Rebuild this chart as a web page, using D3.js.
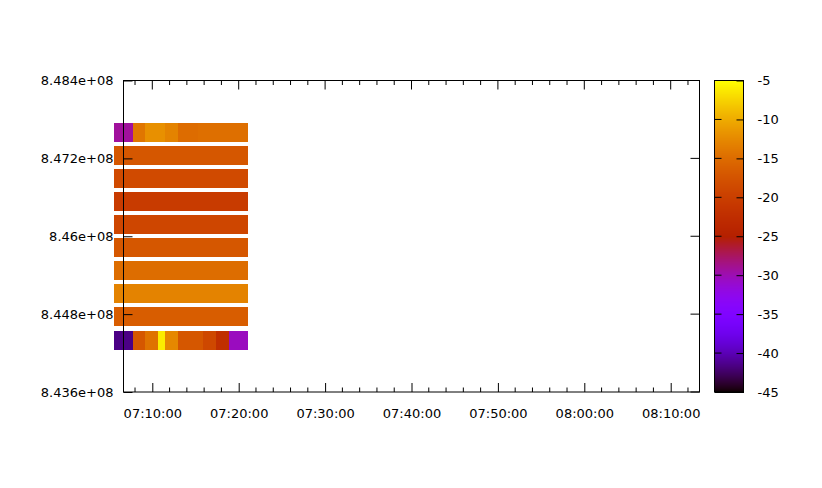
<!DOCTYPE html>
<html>
<head>
<meta charset="utf-8">
<script src="https://cdn.jsdelivr.net/npm/d3@7/dist/d3.min.js"></script>
<style>
  html, body { margin: 0; padding: 0; background: #fff; }
  text { font-family: "DejaVu Sans", sans-serif; font-size: 13px; fill: #000; }
</style>
</head>
<body>
<script>
// ---------------- data ----------------
// row centre values on the y axis (top to bottom)
const rowFreqs = [847.598e6, 847.244e6, 846.889e6, 846.534e6, 846.180e6,
                  845.825e6, 845.471e6, 845.116e6, 844.761e6, 844.391e6];
// column boundaries (time of day)
const cellEdges = ["07:05:35", "07:07:47", "07:09:11", "07:10:41", "07:11:30", "07:13:00",
                   "07:15:14", "07:15:54", "07:17:24", "07:18:54", "07:21:06"];
// cell values (one array per row, top to bottom)
const row1  = [-29.2, -14.1, -11.9, -11.9, -13.0, -15.0, -14.7, -14.7, -14.7, -14.7];
const row2  = [-17.1, -17.1, -17.1, -17.1, -17.1, -17.1, -17.1, -17.1, -17.1, -17.1];
const row3  = [-18.5, -18.5, -18.5, -18.5, -18.5, -18.5, -18.5, -18.5, -18.5, -18.5];
const row4  = [-20.4, -20.4, -20.4, -20.4, -20.4, -20.4, -20.4, -20.4, -20.4, -20.4];
const row5  = [-19.0, -19.0, -19.0, -19.0, -19.0, -19.0, -19.0, -19.0, -19.0, -19.0];
const row6  = [-17.1, -17.1, -17.1, -17.1, -17.1, -17.1, -17.1, -17.1, -17.1, -17.1];
const row7  = [-14.9, -14.9, -14.9, -14.9, -14.9, -14.9, -14.9, -14.9, -14.9, -14.9];
const row8  = [-13.0, -13.0, -13.0, -13.0, -13.0, -13.0, -13.0, -13.0, -13.0, -13.0];
const row9  = [-16.4, -16.4, -16.4, -16.4, -16.4, -16.4, -16.4, -16.4, -16.4, -16.4];
const row10 = [-41.5, -17.1, -14.3, -6.0, -12.6, -17.0, -17.0, -18.8, -22.3, -30.4];
const rowValues = [row1, row2, row3, row4, row5, row6, row7, row8, row9, row10];
// axis ranges / tick labels
const xDomain = ["07:06:40", "08:13:20"];
const yDomain = [843.6e6, 848.4e6];
const yTicks = [843.6e6, 844.8e6, 846.0e6, 847.2e6, 848.4e6];
const yTickLabels = ["8.436e+08", "8.448e+08", "8.46e+08", "8.472e+08", "8.484e+08"];
const cbDomain = [-45, -5];
const cbTicks = [-45, -40, -35, -30, -25, -20, -15, -10, -5];
const rowHalfHeight = 146.5e3;

// ---------------- drawing ----------------
const W = 822, H = 488;
const svg = d3.select("body").append("svg").attr("width", W).attr("height", H);

const parseT = s => new Date("2000-01-01T" + s + "Z");
const x = d3.scaleUtc().domain(xDomain.map(parseT)).range([123.5, 699.5]);
const y = d3.scaleLinear().domain(yDomain).range([392, 80.5]);
const norm = d3.scaleLinear().domain(cbDomain).range([0, 1]).clamp(true);

// gnuplot rgbformulae 7,5,15
function pal(t) {
  const r = Math.sqrt(t), g = t * t * t, b = Math.max(0, Math.sin(2 * Math.PI * t));
  const c = v => Math.round(Math.max(0, Math.min(1, v)) * 255);
  return `rgb(${c(r)},${c(g)},${c(b)})`;
}
const color = v => pal(norm(v));

// cells
const cells = [];
rowValues.forEach((vals, i) => {
  vals.forEach((v, j) => {
    cells.push({ f: rowFreqs[i], t0: parseT(cellEdges[j]), t1: parseT(cellEdges[j + 1]), v });
  });
});
svg.append("g").attr("shape-rendering", "crispEdges")
  .selectAll("rect").data(cells).join("rect")
  .attr("x", d => Math.round(x(d.t0)))
  .attr("width", d => Math.round(x(d.t1)) - Math.round(x(d.t0)))
  .attr("y", d => Math.round(y(d.f + rowHalfHeight)))
  .attr("height", d => Math.round(y(d.f - rowHalfHeight)) - Math.round(y(d.f + rowHalfHeight)))
  .attr("fill", d => color(d.v));

// axes
const majorX = x.ticks(d3.utcMinute.every(10));
const minorX = x.ticks(d3.utcMinute.every(2)).filter(t => t.getUTCMinutes() % 10 !== 0);
const fmt = d3.utcFormat("%H:%M:%S");
const [xl, xr] = x.range();
const [yb, yt] = y.range();

const bottomAxis = d3.axisBottom(x).tickValues(majorX).tickFormat(fmt).tickSize(-9).tickPadding(17);
const gx = svg.append("g").attr("transform", `translate(0,${yb})`).call(bottomAxis);
gx.select(".domain").remove();
gx.selectAll("line").attr("stroke", "#000");
gx.attr("font-size", null).attr("font-family", null);

const minor = svg.append("g").attr("stroke", "#000");
minorX.forEach(t => {
  minor.append("line").attr("x1", x(t)).attr("x2", x(t)).attr("y1", yb).attr("y2", yb - 4.5);
  minor.append("line").attr("x1", x(t)).attr("x2", x(t)).attr("y1", yt).attr("y2", yt + 4.5);
});
majorX.forEach(t => {
  minor.append("line").attr("x1", x(t)).attr("x2", x(t)).attr("y1", yt).attr("y2", yt + 9);
});

const leftAxis = d3.axisLeft(y).tickValues(yTicks).tickFormat((d, i) => yTickLabels[i]).tickSize(-9).tickPadding(10);
const gy = svg.append("g").attr("transform", `translate(${xl},0)`).call(leftAxis);
gy.select(".domain").remove();
gy.attr("font-size", null).attr("font-family", null);
yTicks.forEach(v => {
  minor.append("line").attr("x1", xr).attr("x2", xr - 9).attr("y1", y(v)).attr("y2", y(v));
});

// border
svg.append("rect").attr("x", xl).attr("y", yt).attr("width", xr - xl).attr("height", yb - yt)
  .attr("fill", "none").attr("stroke", "#000").attr("stroke-width", 1);

// colour bar
const cbX = 714.5, cbW = 29;
const cbY = d3.scaleLinear().domain(cbDomain).range([392, 80.5]);
const steps = d3.range(0, 312);
const cbg = svg.append("g").attr("shape-rendering", "crispEdges");
steps.forEach(k => {
  const py = 80.5 + k;
  const v = cbY.invert(py + 0.5);
  cbg.append("rect").attr("x", cbX).attr("y", py).attr("width", cbW).attr("height", 1.2)
    .attr("fill", color(v));
});
svg.append("rect").attr("x", cbX).attr("y", 80.5).attr("width", cbW).attr("height", 392 - 80.5)
  .attr("fill", "none").attr("stroke", "#000");
const cbAxis = d3.axisRight(cbY).tickValues(cbTicks).tickFormat(d3.format("d")).tickSize(-7).tickPadding(14);
const gc = svg.append("g").attr("transform", `translate(${cbX + cbW},0)`).call(cbAxis);
gc.select(".domain").remove();
gc.attr("font-size", null).attr("font-family", null);
gc.selectAll("text").text(d => String(d));
cbTicks.forEach(v => {
  svg.append("line").attr("x1", cbX).attr("x2", cbX + 7).attr("y1", cbY(v)).attr("y2", cbY(v)).attr("stroke", "#000");
});
</script>
</body>
</html>
